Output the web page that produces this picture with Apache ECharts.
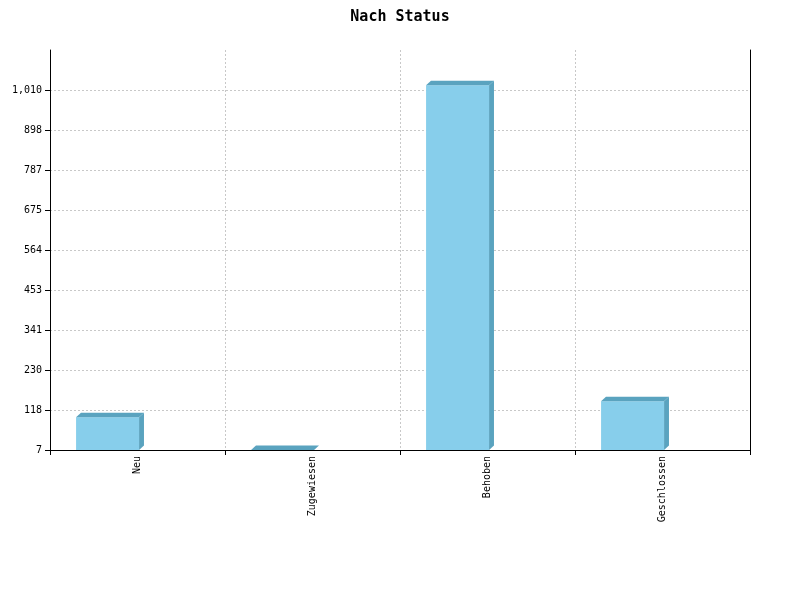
<!DOCTYPE html>
<html><head><meta charset="utf-8">
<script src="https://cdn.jsdelivr.net/npm/echarts@6/dist/echarts.min.js"></script>
<style>html,body{margin:0;padding:0;background:#fff}#c{width:800px;height:600px}</style>
</head><body><div id="c"></div>
<script>
const categories = ['Neu', 'Zugewiesen', 'Behoben', 'Geschlossen'];
const counts = [98, 7, 1023, 143];
const tickLabels = ['7', '118', '230', '341', '453', '564', '675', '787', '898', '1,010'];
const axisMin = 7;
const axisStep = 111.4;

const FONT = 'DejaVu Sans Mono';
const chart = echarts.init(document.getElementById('c'));

function renderBar(params, api) {
  const i = api.value(0), v = api.value(1);
  const top = api.coord([i, v]);
  const base = api.coord([i, axisMin]);
  const bw = api.size([1, 0])[0];
  const L = top[0] - bw * 0.351;
  const W = bw * 0.36;
  const R = L + W;
  const d = bw * 0.028;
  const h = 4.5;
  const T = top[1], B = base[1];
  const dark = '#5aa3bf';
  return {
    type: 'group',
    children: [
      { type: 'rect', shape: { x: L, y: T, width: W, height: B - T }, style: { fill: '#87ceeb' } },
      { type: 'polygon', shape: { points: [[L, T], [R, T], [R + d, T - h], [L + d, T - h]] }, style: { fill: dark } },
      { type: 'polygon', shape: { points: [[R, T], [R + d, T - h], [R + d, B - h], [R, B]] }, style: { fill: dark } }
    ]
  };
}

chart.setOption({
  animation: false,
  backgroundColor: '#fff',
  title: {
    text: 'Nach Status', left: 'center', top: 5,
    textStyle: { fontFamily: FONT, fontSize: 15, fontWeight: 'bold', color: '#000' }
  },
  grid: { left: 50, right: 50, top: 50, bottom: 150 },
  xAxis: {
    type: 'category', data: categories, boundaryGap: true,
    axisLine: { lineStyle: { color: '#000', width: 1 } },
    axisTick: { show: true, length: 5, lineStyle: { color: '#000' } },
    axisLabel: { rotate: 90, margin: 6, fontFamily: FONT, fontSize: 10, color: '#000' },
    splitLine: { show: true, lineStyle: { type: [2, 2], color: '#c8c8c8' } }
  },
  yAxis: [{
    type: 'value', min: axisMin, max: axisMin + 10 * axisStep, interval: axisStep,
    axisLine: { show: true, lineStyle: { color: '#000' } },
    axisTick: { show: true, length: 5, lineStyle: { color: '#000' } },
    axisLabel: {
      margin: 8, fontFamily: FONT, fontSize: 10, color: '#000', showMaxLabel: false,
      formatter: (val) => { const k = Math.round((val - axisMin) / axisStep); return tickLabels[k] || ''; }
    },
    splitLine: { show: true, showMaxLine: false, lineStyle: { type: [2, 2], color: '#c8c8c8' } }
  }, {
    type: 'value', position: 'right', min: axisMin, max: axisMin + 10 * axisStep, interval: axisStep,
    axisLine: { show: true, lineStyle: { color: '#000' } },
    axisTick: { show: false }, axisLabel: { show: false }, splitLine: { show: false }
  }],
  series: [{
    type: 'custom', renderItem: renderBar,
    data: counts.map((v, i) => [i, v]),
    encode: { x: 0, y: 1 }
  }]
});
</script></body></html>
